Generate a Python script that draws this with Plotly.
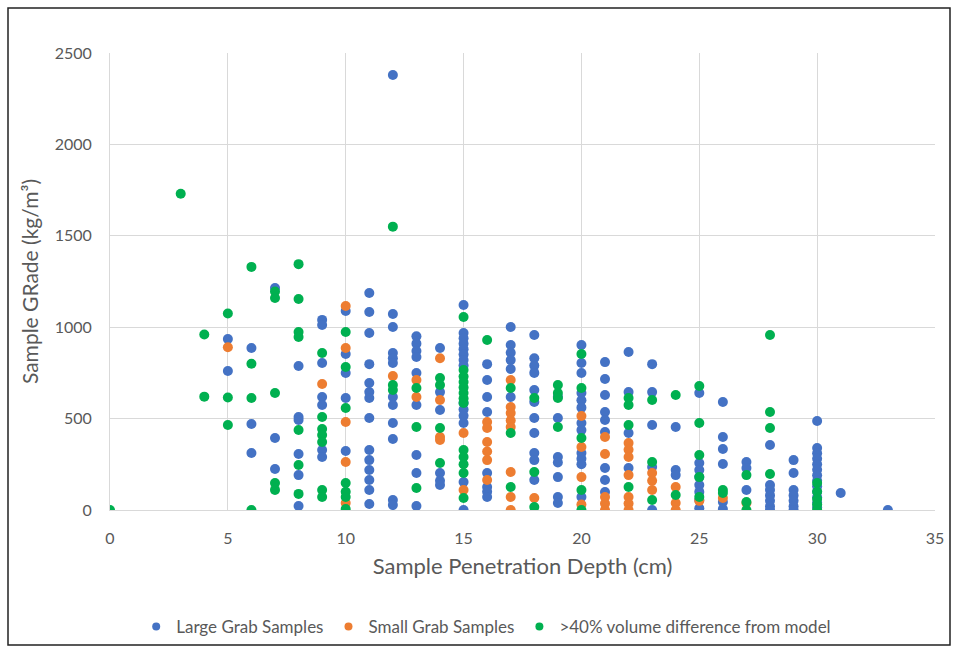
import plotly.graph_objects as go

# ---- Large Grab Samples (blue) ----
large_depth = [5, 5,
               6, 6, 6,
               7, 7, 7,
               8, 8, 8, 8, 8, 8,
               9, 9, 9, 9, 9, 9, 9,
               10, 10, 10, 10, 10,
               11, 11, 11, 11, 11, 11, 11, 11, 11, 11, 11, 11, 11, 11,
               12, 12, 12, 12, 12, 12, 12, 12, 12, 12, 12, 12,
               13, 13, 13, 13, 13, 13, 13, 13, 13,
               14, 14, 14, 14, 14, 14,
               15, 15, 15, 15, 15, 15, 15, 15, 15, 15, 15, 15, 15, 15,
               16, 16, 16, 16, 16, 16, 16, 16,
               17, 17, 17, 17, 17, 17,
               18, 18, 18, 18, 18, 18, 18, 18, 18, 18, 18,
               19, 19, 19, 19, 19, 19, 19,
               20, 20, 20, 20, 20, 20, 20, 20, 20, 20, 20, 20,
               21, 21, 21, 21, 21, 21, 21, 21, 21,
               22, 22, 22, 22,
               23, 23, 23, 23, 23,
               24, 24, 24,
               25, 25, 25, 25, 25, 25, 25, 25,
               26, 26, 26, 26, 26, 26,
               27, 27, 27,
               28, 28, 28, 28, 28, 28, 28,
               29, 29, 29, 29, 29, 29, 29,
               30, 30, 30, 30, 30, 30, 30, 30, 30, 30, 30, 30, 30,
               31,
               33]
large_grade = [935, 760,
               886, 470, 312,
               1214, 394, 224,
               788, 509, 493, 306, 191, 22,
               1040, 1012, 804, 618, 574, 328, 290,
               1089, 853, 749, 613, 323,
               1187, 1083, 968, 798, 695, 645, 613, 503, 328, 273, 219, 164, 109, 33,
               2380, 1072, 1001, 859, 830, 804, 618, 574, 476, 388, 55, 27,
               950, 910, 870, 837, 749, 574, 301, 202, 22,
               886, 645, 547, 202, 160, 137,
               1121, 968, 940, 910, 880, 850, 820, 790, 585, 550, 515, 476, 153, 0,
               798, 711, 618, 536, 202, 126, 100, 71,
               1001, 903, 860, 820, 771, 618,
               957, 830, 790, 750, 656, 591, 503, 421, 312, 273, 164,
               620, 503, 290, 260, 180, 71, 38,
               903, 804, 749, 640, 600, 560, 476, 437, 312, 280, 250, 71,
               809, 717, 629, 536, 492, 427, 230, 164, 98,
               864, 645, 421, 230,
               798, 645, 465, 235, 0,
               454, 219, 191,
               640, 257, 219, 180, 137, 99, 55, 10,
               591, 399, 334, 252, 44, 5,
               263, 230, 109,
               356, 137, 110, 80, 50, 20, 0,
               273, 202, 109, 80, 50, 20, 0,
               487, 339, 310, 280, 250, 220, 190, 160, 130, 100, 70, 40, 15,
               93,
               0]

# ---- Small Grab Samples (orange) ----
small_depth = [5,
               9,
               10, 10, 10, 10, 10,
               12,
               13, 13,
               14, 14, 14, 14,
               15, 15,
               16, 16, 16, 16, 16, 16,
               17, 17, 17, 17, 17, 17, 17, 17,
               18,
               20, 20, 20, 20,
               21, 21, 21, 21, 21,
               22, 22, 22, 22, 22, 22, 22,
               23, 23, 23,
               24, 24, 24,
               25,
               26,
               27]
small_grade = [890,
               689,
               1116, 886, 481, 263, 38,
               733,
               711, 618,
               830, 602, 399, 383,
               421, 109,
               481, 449, 372, 320, 273, 164,
               711, 563, 530, 490, 454, 208, 71, 0,
               66,
               514, 345, 180, 30,
               399, 306, 71, 35, 0,
               366, 330, 290, 191, 71, 35, 0,
               202, 160, 109,
               126, 38, 0,
               50,
               66,
               38]

# ---- >40% volume difference from model (green) ----
green_depth = [0,
               3,
               4, 4,
               5, 5, 5,
               6, 6, 6, 6,
               7, 7, 7, 7, 7,
               8, 8, 8, 8, 8, 8, 8,
               9, 9, 9, 9, 9, 9, 9,
               10, 10, 10, 10, 10, 10, 10,
               12, 12, 12,
               13, 13, 13,
               14, 14, 14, 14,
               15, 15, 15, 15, 15, 15, 15, 15, 15, 15, 15, 15, 15,
               16,
               17, 17, 17,
               18, 18, 18,
               19, 19, 19, 19,
               20, 20, 20, 20, 20,
               22, 22, 22, 22,
               23, 23, 23,
               24, 24,
               25, 25, 25, 25, 25,
               26, 26,
               27, 27, 27,
               28, 28, 28, 28,
               30, 30, 30, 30, 30]
green_grade = [0,
               1730,
               960, 620,
               1075, 615, 465,
               1330, 800, 613, 0,
               1195, 1160, 640, 148, 110,
               1345, 1154, 974, 946, 438, 246, 88,
               859, 509, 443, 410, 372, 109, 71,
               974, 782, 558, 148, 100, 71, 5,
               1550, 684, 656,
               667, 454, 120,
               722, 684, 449, 257,
               1056, 766, 730, 700, 670, 640, 610, 585, 328, 290, 250, 202, 66,
               930,
               667, 421, 126,
               613, 208, 16,
               684, 640, 613, 454,
               853, 667, 394, 109, 0,
               613, 574, 465, 126,
               602, 263, 55,
               629, 82,
               678, 476, 301, 180, 71,
               109, 93,
               191, 44, 0,
               957, 536, 449, 197,
               148, 100, 60, 30, 0]

series_names = ["Large Grab Samples", "Small Grab Samples", ">40% volume difference from model"]
series_colors = ["#4472C4", "#ED7D31", "#00B050"]

x_ticks = [0, 5, 10, 15, 20, 25, 30, 35]
y_ticks = [0, 500, 1000, 1500, 2000, 2500]

FONT = "Lato, 'Open Sans', sans-serif"
GREY = "#595959"

fig = go.Figure()
for name, color, xs, ys in zip(series_names, series_colors,
                               [large_depth, small_depth, green_depth],
                               [large_grade, small_grade, green_grade]):
    fig.add_trace(go.Scatter(
        x=xs, y=ys, mode="markers", name=name, showlegend=False,
        marker=dict(color=color, size=10, line=dict(width=0)),
    ))
# legend entries with smaller symbols (as in the reference legend)
for name, color in zip(series_names, series_colors):
    fig.add_trace(go.Scatter(
        x=[None], y=[None], mode="markers", name=name, showlegend=True,
        marker=dict(color=color, size=8, line=dict(width=0)),
    ))

fig.update_layout(
    width=958, height=650,
    margin=dict(l=110, r=23, t=53, b=140, autoexpand=False),
    paper_bgcolor="white", plot_bgcolor="white",
    font=dict(family=FONT, color=GREY, size=16),
    showlegend=True,
    legend=dict(orientation="h", x=0.456, xanchor="center", y=-0.256, yanchor="middle",
                bgcolor="rgba(0,0,0,0)",
                font=dict(size=17, color=GREY), traceorder="normal", itemwidth=30),
    xaxis=dict(range=[0, 35], tickvals=x_ticks, showgrid=True, gridcolor="#D9D9D9",
               gridwidth=1, zeroline=False, showline=True, linecolor="#D9D9D9",
               ticks="", ticklabelstandoff=14, tickfont=dict(size=16, color=GREY),
               title=dict(text="Sample Penetration Depth (cm)", font=dict(size=22, color=GREY),
                          standoff=12)),
    yaxis=dict(range=[0, 2500], tickvals=y_ticks, showgrid=True, gridcolor="#D9D9D9",
               gridwidth=1, zeroline=False, showline=True, linecolor="#D9D9D9",
               ticks="", ticklabelstandoff=14, tickfont=dict(size=16, color=GREY),
               title=dict(text="Sample GRade (kg/m³)", font=dict(size=21, color=GREY),
                          standoff=10)),
)

# image frame border
fig.add_shape(type="rect", xref="paper", yref="paper",
              x0=(8 - 110) / 825, x1=(950 - 110) / 825,
              y0=(510 - 645) / 457, y1=(510 - 8) / 457,
              line=dict(color="#222222", width=1.5), fillcolor="rgba(0,0,0,0)", layer="below")

fig.write_html("out.html")
